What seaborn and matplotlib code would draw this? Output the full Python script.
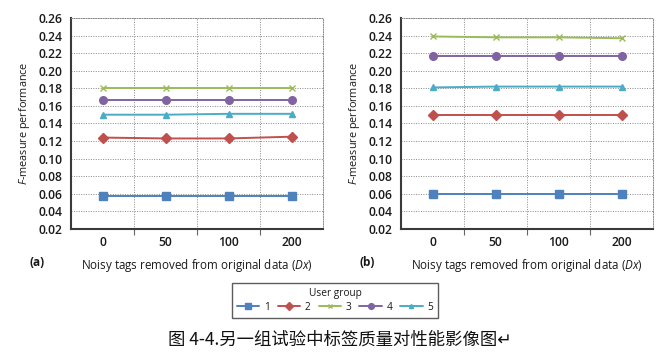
import matplotlib
matplotlib.use("Agg")
import matplotlib.pyplot as plt
import seaborn as sns
import pandas as pd

# ---- data ----
dx_labels = ["0", "50", "100", "200"]
groups = ["1", "2", "3", "4", "5"]

a_g1 = [0.058, 0.058, 0.058, 0.058]
a_g2 = [0.124, 0.123, 0.123, 0.125]
a_g3 = [0.180, 0.180, 0.180, 0.180]
a_g4 = [0.167, 0.167, 0.167, 0.167]
a_g5 = [0.150, 0.150, 0.151, 0.151]

b_g1 = [0.060, 0.060, 0.060, 0.060]
b_g2 = [0.150, 0.150, 0.150, 0.150]
b_g3 = [0.239, 0.238, 0.238, 0.237]
b_g4 = [0.217, 0.217, 0.217, 0.217]
b_g5 = [0.181, 0.182, 0.182, 0.182]

y_ticks = [0.02, 0.04, 0.06, 0.08, 0.10, 0.12, 0.14, 0.16, 0.18, 0.20, 0.22, 0.24, 0.26]

colors = ["#4F81BD", "#C0504D", "#9BBB59", "#8064A2", "#4BACC6"]
markers = ["s", "D", "x", "o", "^"]
msizes = [5.5, 5.5, 4.0, 5.5, 4.0]

sns.set_theme(style="white")
plt.rcParams["font.family"] = ["Open Sans", "DejaVu Sans"]
plt.rcParams["mathtext.fontset"] = "custom"
plt.rcParams["mathtext.it"] = "Open Sans:italic"
plt.rcParams["mathtext.rm"] = "Open Sans"


def make_df(series):
    rows = []
    for g, vals in zip(groups, series):
        for x, v in zip(dx_labels, vals):
            rows.append({"Dx": x, "F": v, "group": g})
    return pd.DataFrame(rows)


W, H = 662, 359
fig = plt.figure(figsize=(W / 100, H / 100), dpi=100)
fig.patch.set_facecolor("white")

panels = [
    (71, make_df([a_g1, a_g2, a_g3, a_g4, a_g5]), "(a)"),
    (401, make_df([b_g1, b_g2, b_g3, b_g4, b_g5]), "(b)"),
]

axes = []
for left_px, df, tag in panels:
    ax = fig.add_axes([left_px / W, (H - 229) / H, 252 / W, 211 / H])
    sns.pointplot(data=df, x="Dx", y="F", hue="group", order=dx_labels,
                  hue_order=groups, palette=colors, markers=markers,
                  linestyles="-", errorbar=None, dodge=False, legend=False,
                  ax=ax)
    for ln, ms, c in zip(ax.lines, msizes, colors):
        ln.set_markersize(ms)
        ln.set_linewidth(1.4)
        ln.set_markeredgecolor(c)
        ln.set_markeredgewidth(1.0)
    ax.set_xlim(-0.5, 3.5)
    ax.set_ylim(0.02, 0.26)
    ax.set_yticks(y_ticks)
    ax.set_yticklabels([f"{t:.2f}" for t in y_ticks])
    ax.set_xticks([0, 1, 2, 3])
    ax.set_xticklabels(dx_labels)
    ax.set_xticks([0.5, 1.5, 2.5], minor=True)
    ax.grid(False)
    ax.grid(True, which="major", axis="y", color="#888888", linestyle=(0, (1, 1.5)), linewidth=0.7)
    ax.grid(True, which="minor", axis="x", color="#888888", linestyle=(0, (1, 1.5)), linewidth=0.7)
    ax.set_axisbelow(True)
    for s in ["top", "right"]:
        ax.spines[s].set_color("#888888")
        ax.spines[s].set_linestyle((0, (1, 1.5)))
        ax.spines[s].set_linewidth(0.7)
    for s in ["left", "bottom"]:
        ax.spines[s].set_color("#3a3a3a")
        ax.spines[s].set_linewidth(1.5)
    ax.tick_params(axis="both", which="major", length=0, labelsize=8.7,
                   labelcolor="#1a1a1a")
    ax.tick_params(axis="x", which="minor", length=4, width=0.8,
                   color="#666666", direction="out", bottom=True)
    ax.tick_params(axis="y", pad=6)
    ax.tick_params(axis="x", which="major", pad=5)
    for lbl in ax.get_xticklabels() + ax.get_yticklabels():
        lbl.set_fontweight("semibold")
    ax.set_xlabel(r"Noisy tags removed from original data ($Dx$)", fontsize=8.4,
                  color="#1a1a1a", labelpad=6)
    ax.set_ylabel(r"$F$-measure performance", fontsize=7.8, color="#1a1a1a",
                  labelpad=5)
    fig.text((left_px - 34) / W, 1 - 262 / H, tag, fontsize=8.5, fontweight="bold",
             ha="center", va="center", color="#1a1a1a")
    axes.append(ax)

handles = axes[0].lines[:5]
leg = fig.legend(handles, groups, title="User group", ncol=5, loc="center",
                 bbox_to_anchor=(335 / W, 1 - 300.5 / H), fontsize=7.3,
                 title_fontsize=7.3, frameon=True, fancybox=False,
                 handlelength=2.2, columnspacing=0.8, handletextpad=0.45,
                 borderpad=0.5, labelspacing=0.3, markerscale=0.75,
                 borderaxespad=0.0)
leg.get_frame().set_edgecolor("#333333")
leg.get_frame().set_linewidth(1.0)
for t in leg.get_texts():
    t.set_color("#1a1a1a")
leg.get_title().set_color("#1a1a1a")

fig.text(340 / W, 1 - 340 / H, "图 4-4.另一组试验中标签质量对性能影像图↵",
         fontsize=12.5, ha="center", va="center", color="#111111",
         family=["Noto Sans CJK SC", "DejaVu Sans"])

fig.savefig("out.png", dpi=100, facecolor="white")
